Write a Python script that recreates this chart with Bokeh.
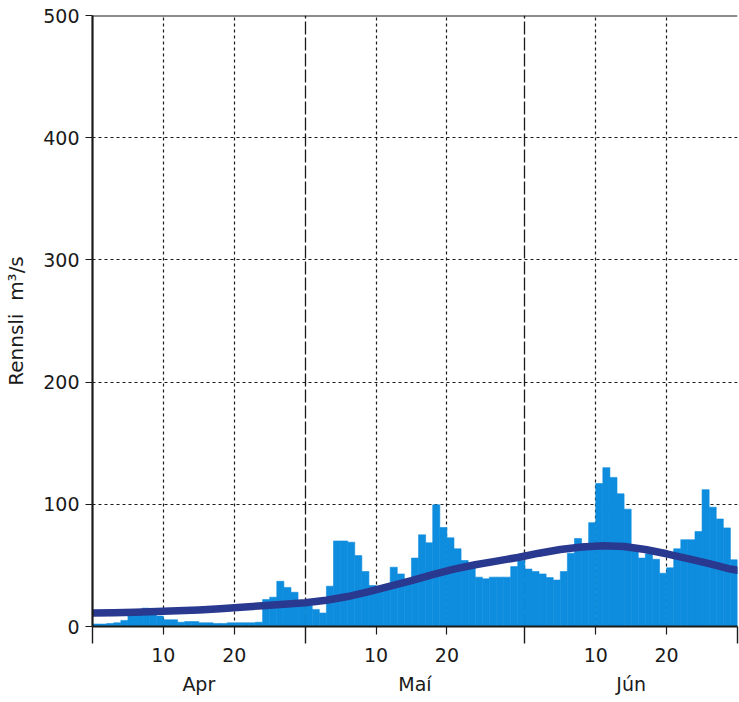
from bokeh.plotting import figure
from bokeh.models import LinearAxis, FixedTicker, Grid, Span, Range1d
from bokeh.embed import file_html
from bokeh.resources import INLINE

# ---- data -------------------------------------------------------------
months = ["Apr", "Maí", "Jún"]
month_starts = [0, 30, 61, 91]          # day index where each month starts (Apr 1 = 0)
day_labels = [10, 20]                    # day-of-month tick labels
y_ticks = [0, 100, 200, 300, 400, 500]
y_grid = [100, 200, 300, 400]

# daily discharge (m3/s), 1 Apr .. 30 Jun
flow = [
    2, 2, 2.5, 3, 5, 9, 10, 15, 11, 8.5,
    5.5, 5.5, 3.5, 4, 4, 3, 3, 2.5, 2.5, 3,
    3, 3, 3, 3.5, 22, 24, 37, 32, 28, 19,
    17, 14, 11, 33, 70, 70, 69, 58, 45, 33.5,
    33, 33, 48.5, 43, 36, 56, 75, 68.5, 99.6, 81,
    72.6, 63.6, 54, 48, 40.4, 39, 40.4, 40.4, 40.4, 49,
    54, 47, 45, 43, 40, 38, 45, 60, 72, 67.6,
    85, 117, 130, 122, 108.6, 96, 66, 56, 59.5, 55,
    43.6, 48, 63.6, 71, 71, 77.7, 112, 97.6, 88, 80.7,
    54.6,
]

# long-term mean curve
mean_day = [0, 3, 6, 9, 12, 15, 18, 21, 24, 27, 30, 33, 36, 39, 42, 45,
            48, 51, 54, 57, 60, 63, 66, 69, 72, 75, 78, 81, 84, 87, 90, 91]
mean_flow = [11.0, 11.3, 11.7, 12.2, 12.8, 13.6, 14.6, 15.8, 17.0, 18.2,
             19.5, 21.5, 24.5, 28.5, 33.0, 37.5, 42.5, 47.0, 50.5, 53.5,
             56.5, 60.0, 63.0, 65.0, 66.0, 65.5, 63.0, 59.5, 55.5, 51.5,
             47.0, 46.0]

BLUE = "#0e8ddf"
NAVY = "#2a3990"
INK = "#1a1a1a"
FONT = "DejaVu Sans"

# ---- figure -------------------------------------------------------------
p = figure(width=739, height=700,
           x_range=Range1d(month_starts[0], month_starts[-1]),
           y_range=Range1d(y_ticks[0], y_ticks[-1]),
           x_axis_type=None, y_axis_type=None,
           output_backend="svg", toolbar_location=None,
           min_border_left=92, min_border_right=2,
           min_border_top=15, min_border_bottom=74)
p.outline_line_color = None
p.background_fill_color = "white"
p.border_fill_color = "white"

# grids
hg = Grid(dimension=1, ticker=FixedTicker(ticks=y_grid),
          grid_line_color=INK, grid_line_dash="3 3", grid_line_width=1.2)
day_pos = [s + d for s in month_starts[:-1] for d in day_labels]
vg = Grid(dimension=0, ticker=FixedTicker(ticks=day_pos),
          grid_line_color=INK, grid_line_dash="3 3", grid_line_width=1.2)
mg = Grid(dimension=0, ticker=FixedTicker(ticks=month_starts[1:-1]),
          grid_line_color=INK, grid_line_dash="13 3", grid_line_width=1.3)
for g in (hg, vg, mg):
    p.add_layout(g)

# bars (daily step histogram)
left = list(range(len(flow)))
right = [i + 1 for i in left]
p.quad(left=left, right=right, bottom=0, top=flow,
       fill_color=BLUE, line_color=BLUE, line_width=0.6)

# mean curve
p.line(mean_day, mean_flow, line_width=7.5, line_color=NAVY,
       line_join="round", line_cap="round")

# top frame line
p.add_layout(Span(location=y_ticks[-1], dimension="width",
                  line_color=INK, line_width=2))

# y axis
ya = LinearAxis(ticker=FixedTicker(ticks=y_ticks),
                axis_label="Rennsli\u00a0\u00a0m³/s",
                axis_label_text_font=FONT, axis_label_text_font_size="20px",
                axis_label_text_font_style="normal", axis_label_text_color=INK,
                axis_label_standoff=12,
                major_label_text_font=FONT, major_label_text_font_size="19px",
                major_label_text_color=INK, major_label_standoff=6,
                major_tick_out=7, major_tick_in=0,
                major_tick_line_color=INK, major_tick_line_width=1.2,
                minor_tick_line_color=None,
                axis_line_color=INK, axis_line_width=2.2)
p.add_layout(ya, "left")

# x axis: day ticks + month boundary ticks
overrides = {pos: str(d) for pos, d in zip(day_pos, day_labels * 3)}
xa = LinearAxis(ticker=FixedTicker(ticks=day_pos, minor_ticks=month_starts),
                major_label_overrides=overrides,
                major_label_text_font=FONT, major_label_text_font_size="19px",
                major_label_text_color=INK, major_label_standoff=4,
                major_tick_out=8, major_tick_in=0,
                major_tick_line_color=INK, major_tick_line_width=1.2,
                minor_tick_out=17, minor_tick_in=0,
                minor_tick_line_color=INK, minor_tick_line_width=1.4,
                axis_line_color=INK, axis_line_width=2)
p.add_layout(xa, "below")

# month names
centers = [(a + b) / 2 for a, b in zip(month_starts[:-1], month_starts[1:])]
ma = LinearAxis(ticker=FixedTicker(ticks=centers),
                major_label_overrides={c: m for c, m in zip(centers, months)},
                major_label_text_font=FONT, major_label_text_font_size="19px",
                major_label_text_color=INK, major_label_standoff=2,
                major_tick_line_color=None, minor_tick_line_color=None,
                axis_line_color=None)
p.add_layout(ma, "below")

open("out.html", "w").write(file_html(p, INLINE))
